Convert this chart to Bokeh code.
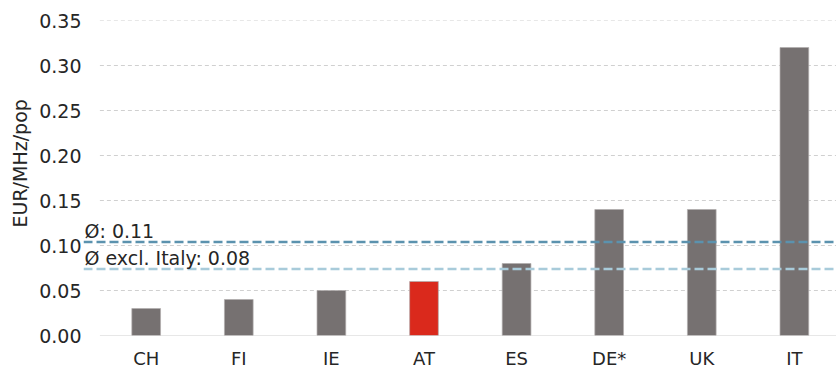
from bokeh.plotting import figure
from bokeh.models import Range1d, ColumnDataSource, Span, Label, NumeralTickFormatter, FixedTicker, Title
from bokeh.embed import file_html
from bokeh.resources import INLINE

countries = ["CH", "FI", "IE", "AT", "ES", "DE*", "UK", "IT"]
values = [0.03, 0.04, 0.05, 0.06, 0.08, 0.14, 0.14, 0.32]
colors = ["#767171", "#767171", "#767171", "#DA291C", "#767171", "#767171", "#767171", "#767171"]
avg_all = 0.104
avg_excl = 0.074
avg_all_label = "Ø: 0.11"
avg_excl_label = "Ø excl. Italy: 0.08"
y_label = "EUR/MHz/pop"
y_ticks = [0.0, 0.05, 0.10, 0.15, 0.20, 0.25, 0.30, 0.35]

pos = [i + 0.5 for i in range(len(countries))]
src = ColumnDataSource(dict(x=pos, top=values, color=colors))

p = figure(width=836, height=371, x_range=Range1d(-0.177, 7.955),
           y_range=Range1d(0, 0.35), output_backend="svg", toolbar_location=None,
           min_border_left=83, min_border_right=0, min_border_top=20, min_border_bottom=36)
p.frame_height = 315
p.outline_line_color = None
p.background_fill_color = "white"
p.xgrid.grid_line_color = None
p.ygrid.grid_line_color = None

# gridlines starting at the category area
grid_src = ColumnDataSource(dict(y=y_ticks[1:], x0=[0] * 7, x1=[len(countries)] * 7))
p.segment(x0="x0", x1="x1", y0="y", y1="y", line_color="#D0D0D0", line_dash="4 3",
          line_width=1, source=grid_src)
p.segment(x0=[0], x1=[len(countries)], y0=[0], y1=[0], line_color="#D0D0D0", line_width=1.2)

p.vbar(x="x", top="top", width=0.31, fill_color="color", line_color="#B0ACAC",
       line_width=1, line_alpha=0.7, source=src)

p.yaxis.ticker = FixedTicker(ticks=y_ticks)
p.yaxis.formatter = NumeralTickFormatter(format="0.00")
p.yaxis.axis_line_color = None
p.yaxis.major_tick_line_color = None
p.yaxis.major_tick_out = 0
p.yaxis.major_tick_in = 0
p.yaxis.minor_tick_line_color = None
p.yaxis.major_label_text_font = "DejaVu Sans"
p.yaxis.major_label_text_font_size = "19px"
p.yaxis.major_label_text_color = "#262626"
p.yaxis.major_label_standoff = 2

p.add_layout(Title(text=y_label, align="left", offset=108, standoff=11,
                   text_font="DejaVu Sans", text_font_size="19px", text_font_style="normal",
                   text_color="#262626"), "left")

p.xaxis.ticker = FixedTicker(ticks=pos)
p.xaxis.major_label_overrides = {x: c for x, c in zip(pos, countries)}
p.xaxis.axis_line_color = None
p.xaxis.major_tick_line_color = None
p.xaxis.major_tick_out = 0
p.xaxis.major_tick_in = 0
p.xaxis.minor_tick_line_color = None
p.xaxis.major_label_text_font = "DejaVu Sans"
p.xaxis.major_label_text_font_size = "18px"
p.xaxis.major_label_text_color = "#262626"
p.xaxis.major_label_standoff = 12

p.add_layout(Span(location=avg_all, dimension="width", line_color="#5B92AE",
                  line_dash="9 4", line_width=2.5))
p.add_layout(Span(location=avg_excl, dimension="width", line_color="#A8CBDA",
                  line_dash="9 4", line_width=2.5))
p.add_layout(Label(x=1, y=avg_all, x_units="screen", text=avg_all_label, text_font="DejaVu Sans",
                   text_font_size="19px", text_color="#262626", y_offset=0))
p.add_layout(Label(x=1, y=avg_excl, x_units="screen", text=avg_excl_label, text_font="DejaVu Sans",
                   text_font_size="19px", text_color="#262626", y_offset=0))

open("out.html", "w").write(file_html(p, INLINE))
